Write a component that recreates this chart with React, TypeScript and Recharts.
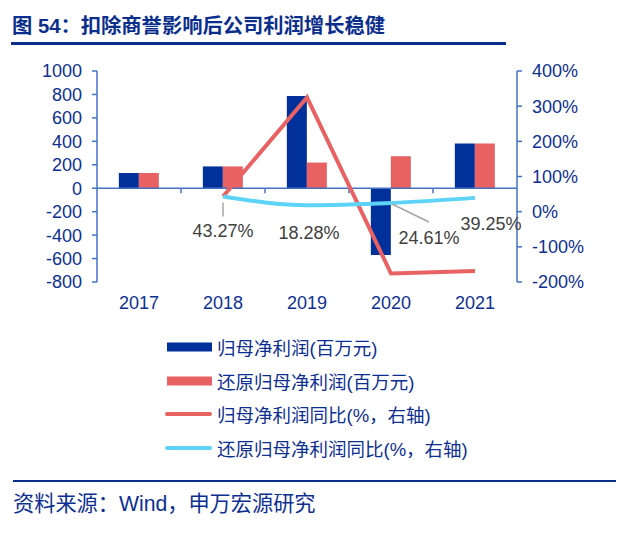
import React from "react";
import {
  ComposedChart,
  Bar,
  Line,
  XAxis,
  YAxis,
  ReferenceLine,
  LabelList,
  Legend,
} from "recharts";

const years = ["2017", "2018", "2019", "2020", "2021"];
const netProfit = [130, 186, 786, -569, 381];
const adjNetProfit = [130, 186, 219, 273, 381];
const netProfitYoy = [null, 43.27, 325, -176, -169];
const adjNetProfitYoy = [null, 43.27, 18.28, 24.61, 39.25];

const leftTicks = [-800, -600, -400, -200, 0, 200, 400, 600, 800, 1000];
const rightTicks = [-200, -100, 0, 100, 200, 300, 400];

const seriesNames = [
  "归母净利润(百万元)",
  "还原归母净利润(百万元)",
  "归母净利润同比(%，右轴)",
  "还原归母净利润同比(%，右轴)",
];

const data = years.map((year, i) => ({
  year,
  net: netProfit[i],
  adj: adjNetProfit[i],
  netYoy: netProfitYoy[i],
  adjYoy: adjNetProfitYoy[i],
}));

// where each yoy label sits relative to its point (layout only)
const labelOffsets = [
  null,
  { dx: 0, dy: 35, leader: "down" },
  { dx: 2, dy: 28 },
  { dx: 38, dy: 35, leader: "diag" },
  { dx: 16, dy: 26 },
];

const NAVY = "#00309A";
const SALMON = "#E86163";
const CYAN = "#5DD3F7";
const AXIS = "#4472C4";
const TEXT = "#0D2F91";
const FONT = '"Liberation Sans", Arial, "Noto Sans CJK SC", sans-serif';

const ZeroAxis = (p: any) => {
  const { x1, y1, x2 } = p;
  const band = (x2 - x1) / years.length;
  return (
    <g>
      <line x1={x1} y1={y1} x2={x2} y2={y1} stroke={AXIS} strokeWidth={1.5} />
      {years.slice(1).map((_, i) => (
        <line
          key={i}
          x1={x1 + band * (i + 1)}
          x2={x1 + band * (i + 1)}
          y1={y1}
          y2={y1 + 5}
          stroke={AXIS}
          strokeWidth={1.5}
        />
      ))}
    </g>
  );
};

const renderYoyLabel = (props: any) => {
  const { x, y, value, index } = props;
  const off = labelOffsets[index];
  if (value == null || !off) return null;
  return (
    <g>
      {off.leader === "down" && (
        <line x1={x} y1={y + 6} x2={x} y2={y + 20} stroke="#A6A6A6" strokeWidth={1.5} />
      )}
      {off.leader === "diag" && (
        <line x1={x + 1} y1={y + 1} x2={x + 38} y2={y + 19} stroke="#A6A6A6" strokeWidth={1.5} />
      )}
      <text
        x={x + off.dx}
        y={y + off.dy}
        textAnchor="middle"
        dominantBaseline="central"
        fontSize={18}
        fill="#404040"
        fontFamily={FONT}
      >
        {Number(value).toFixed(2)}%
      </text>
    </g>
  );
};

const renderLegend = (props: any) => {
  const items = [...(props.payload ?? [])].sort(
    (a: any, b: any) => seriesNames.indexOf(a.value) - seriesNames.indexOf(b.value)
  );
  return (
    <div>
      {items.map((it: any, i: number) => (
        <div key={i} style={{ display: "flex", alignItems: "center", height: 33.7 }}>
          <svg width={50} height={12}>
            {it.type === "rect" ? (
              <rect x={2} y={1.5} width={45} height={9} fill={it.color} />
            ) : (
              <line x1={2} x2={45} y1={6} y2={6} stroke={it.color} strokeWidth={4} strokeLinecap="round" />
            )}
          </svg>
          <span style={{ marginLeft: 2, fontSize: 18.5, color: TEXT, fontFamily: FONT, whiteSpace: "nowrap" }}>
            {it.value}
          </span>
        </div>
      ))}
    </div>
  );
};

export default function App() {
  return (
    <div
      style={{
        position: "absolute",
        left: 0,
        top: 0,
        width: 636,
        height: 535,
        background: "#fff",
        fontFamily: FONT,
      }}
    >
      <div
        style={{
          position: "absolute",
          left: 12,
          top: 12.5,
          lineHeight: "26px",
          fontSize: 20.3,
          fontWeight: "bold",
          color: "#0A2E8C",
          whiteSpace: "nowrap",
        }}
      >
        图 54：扣除商誉影响后公司利润增长稳健
      </div>
      <div style={{ position: "absolute", left: 11, top: 41.5, width: 495, height: 3, background: "#0A2E8C" }} />

      <ComposedChart
        width={636}
        height={470}
        data={data}
        margin={{ top: 71, right: 0, bottom: 158, left: 0 }}
        barCategoryGap="26%"
        barGap={0}
      >
        <XAxis
          dataKey="year"
          axisLine={false}
          tickLine={false}
          height={30}
          tickMargin={8}
          tick={{ fontSize: 18, fill: TEXT, fontFamily: FONT }}
        />
        <YAxis
          yAxisId="left"
          width={97}
          domain={[-800, 1000]}
          ticks={leftTicks}
          interval={0}
          tickSize={5}
          tickMargin={10}
          axisLine={{ stroke: AXIS, strokeWidth: 1.5 }}
          tickLine={{ stroke: AXIS, strokeWidth: 1.5 }}
          tick={{ fontSize: 18, fill: TEXT, fontFamily: FONT }}
        />
        <YAxis
          yAxisId="right"
          orientation="right"
          width={119}
          domain={[-200, 400]}
          ticks={rightTicks}
          interval={0}
          tickSize={5}
          tickMargin={10}
          tickFormatter={(v: number) => `${v}%`}
          axisLine={{ stroke: AXIS, strokeWidth: 1.5 }}
          tickLine={{ stroke: AXIS, strokeWidth: 1.5 }}
          tick={{ fontSize: 18, fill: TEXT, fontFamily: FONT }}
        />
        <ReferenceLine yAxisId="left" y={0} shape={ZeroAxis} />
        <Bar yAxisId="left" dataKey="net" name={seriesNames[0]} fill={NAVY} legendType="rect" isAnimationActive={false} />
        <Bar yAxisId="left" dataKey="adj" name={seriesNames[1]} fill={SALMON} legendType="rect" isAnimationActive={false} />
        <Line
          yAxisId="right"
          type="linear"
          dataKey="netYoy"
          name={seriesNames[2]}
          stroke={SALMON}
          strokeWidth={4}
          dot={false}
          legendType="line"
          isAnimationActive={false}
        />
        <Line
          yAxisId="right"
          type="monotone"
          dataKey="adjYoy"
          name={seriesNames[3]}
          stroke={CYAN}
          strokeWidth={4}
          dot={false}
          legendType="line"
          isAnimationActive={false}
        >
          <LabelList dataKey="adjYoy" content={renderYoyLabel} />
        </Line>
        <Legend
          layout="vertical"
          align="center"
          verticalAlign="middle"
          wrapperStyle={{ top: 330, left: 165, width: 360, height: 140 }}
          content={renderLegend}
        />
      </ComposedChart>

      <div style={{ position: "absolute", left: 13, top: 479.5, width: 603, height: 2.5, background: "#0A2E8C" }} />
      <div
        style={{
          position: "absolute",
          left: 13,
          top: 492,
          lineHeight: "24px",
          fontSize: 21.2,
          color: TEXT,
          whiteSpace: "nowrap",
        }}
      >
        资料来源：Wind，申万宏源研究
      </div>
    </div>
  );
}
